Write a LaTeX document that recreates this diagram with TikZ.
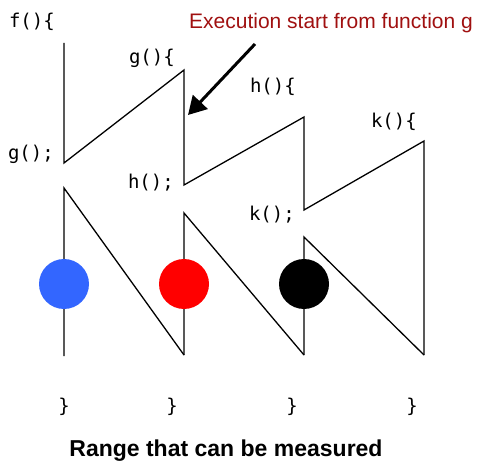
\documentclass[tikz,border=0pt]{standalone}
\usepackage{fontspec}
\setmainfont{Liberation Sans}
\newfontfamily\codefont{DejaVu Sans Mono}
\usetikzlibrary{arrows.meta}
\definecolor{callblue}{RGB}{51,102,255}
\definecolor{notered}{RGB}{160,16,16}

\begin{document}
\begin{tikzpicture}[
    x=1pt, y=-1pt,
    code/.style={font=\codefont\fontsize{19}{19}\selectfont, anchor=east, inner sep=0pt},
    brace/.style={font=\codefont\fontsize{19}{19}\selectfont, inner sep=0pt},
    trace/.style={line width=1.3pt},
    probe/.style={circle, minimum size=50pt, inner sep=0pt}
]
    \useasboundingbox (0,0) rectangle (482,465);

    % calls going down
    \coordinate (fstart) at (64,43);
    \coordinate (fcall) at (64,163);
    \coordinate (gstart) at (184,70);
    \coordinate (gcall) at (184,185);
    \coordinate (hstart) at (304,117);
    \coordinate (hcall) at (304,210);
    \coordinate (kstart) at (424,141);
    \coordinate (kend) at (424,355);
    % returns
    \coordinate (fback) at (64,188);
    \coordinate (fend) at (64,356);
    \coordinate (gback) at (184,213);
    \coordinate (gend) at (184,355);
    \coordinate (hback) at (304,237);
    \coordinate (hend) at (304,355);

    \draw[trace] (fstart) -- (fcall) -- (gstart) -- (gcall) -- (hstart) -- (hcall) -- (kstart) -- (kend);
    \draw[trace] (fend) -- (fback) -- (gend);
    \draw[trace] (gend) -- (gback) -- (hend);
    \draw[trace] (hend) -- (hback) -- (kend);

    \node[probe, fill=callblue] (pf) at (64,284) {};
    \node[probe, fill=red] (pg) at (184,284) {};
    \node[probe, fill=black] (ph) at (304,284) {};

    \node[code] (lf) at (55,22) {f()\{};
    \node[code] (lg) at (175,58) {g()\{};
    \node[code] (lh) at (296,87) {h()\{};
    \node[code] (lk) at (417,122) {k()\{};
    \node[code] (cg) at (54,154) {g();};
    \node[code] (ch) at (174,183) {h();};
    \node[code] (ck) at (295,215) {k();};

    \node[brace] (bf) at (64,407) {\}};
    \node[brace] (bg) at (172,407) {\}};
    \node[brace] (bh) at (292,407) {\}};
    \node[brace] (bk) at (412,407) {\}};

    \node[text=notered, font=\fontsize{21}{21}\selectfont] (note) at (331,23) {Execution start from function g};
    \coordinate (tail) at (255,44);
    \coordinate (tip) at (188,115);
    \draw[line width=3pt, -{Triangle[length=18pt,width=20pt]}] (tail) -- (tip);

    \node[font=\bfseries\fontsize{23}{23}\selectfont] (range) at (226,451) {Range that can be measured};
\end{tikzpicture}
\end{document}
